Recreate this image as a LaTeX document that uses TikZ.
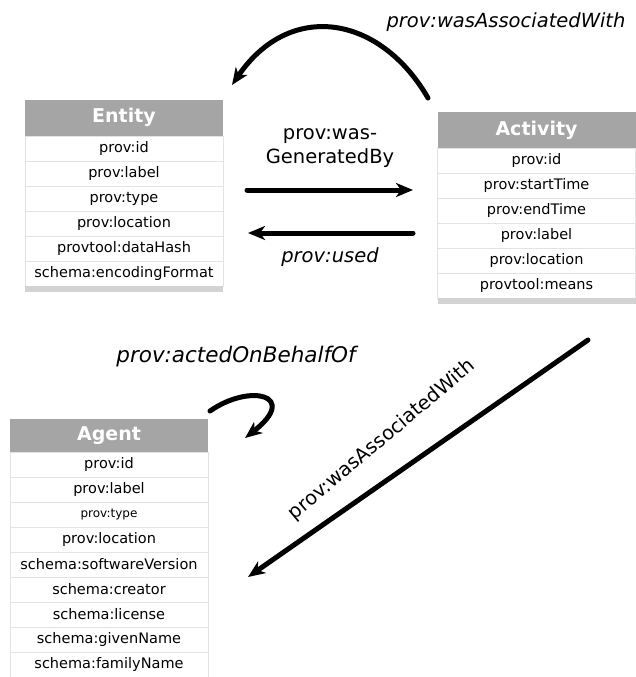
\documentclass[tikz,border=0pt]{standalone}
\usepackage{fontspec}
\setmainfont{DejaVu Sans}
\usetikzlibrary{arrows.meta}
\definecolor{hdrgray}{HTML}{A5A5A5}
\definecolor{bargray}{HTML}{D3D3D3}
\definecolor{rowline}{HTML}{E3E3E3}

\begin{document}
\begin{tikzpicture}[x=1pt,y=-1pt,
  hdr/.style={fill=hdrgray,text=white,font=\fontsize{19}{22}\selectfont\bfseries,
    minimum width=198pt,minimum height=36pt,inner sep=0pt},
  cell/.style={draw=rowline,line width=0.6pt,font=\fontsize{14.5}{16}\selectfont,
    minimum width=198pt,minimum height=25pt,inner sep=0pt},
  smallcell/.style={cell,font=\fontsize{12}{14}\selectfont},
  bar/.style={fill=bargray,minimum width=198pt,minimum height=6pt,inner sep=0pt},
  rel/.style={line width=5pt,line cap=round,
    -{Stealth[length=17pt,width=14pt,inset=5pt]}},
  lbl/.style={font=\fontsize{19.5}{24}\selectfont},
  ilbl/.style={font=\fontsize{19.5}{24}\selectfont\itshape}
]
\useasboundingbox (0,0) rectangle (636,677);

% Entity table
\node[hdr] (entity) at (124,117.5) {Entity};
\foreach \t [count=\i] in {prov:id,prov:label,prov:type,prov:location,
    provtool:dataHash,schema:encodingFormat}
  \node[cell] (ent-\i) at (124,{136+25*\i-12.5}) {\t};
\node[bar] (ent-bar) at (124,289) {};

% Activity table
\node[hdr] (activity) at (536.5,130) {Activity};
\foreach \t [count=\i] in {prov:id,prov:startTime,prov:endTime,prov:label,
    prov:location,provtool:means}
  \node[cell] (act-\i) at (536.5,{148+25*\i-12.5}) {\t};
\node[bar] (act-bar) at (536.5,301) {};

% Agent table
\node[hdr,minimum height=33pt] (agent) at (109,435.5) {Agent};
\foreach \i/\t/\s in {1/prov:id/cell,2/prov:label/cell,3/prov:type/smallcell,
    4/prov:location/cell,5/schema:softwareVersion/cell,6/schema:creator/cell,
    7/schema:license/cell,8/schema:givenName/cell,9/schema:familyName/cell}
  \node[\s] (agt-\i) at (109,{452+25*\i-12.5}) {\t};

% connector end points
\coordinate (assocA) at (428,98);
\coordinate (assocB) at (232,85);
\coordinate (genA) at (247,190);
\coordinate (genB) at (413,190);
\coordinate (usedA) at (413,233);
\coordinate (usedB) at (248,233);
\coordinate (behalfA) at (210,411);
\coordinate (behalfB) at (245,438);
\coordinate (diagA) at (588,340);
\coordinate (diagB) at (248,577);

% relations
\draw[rel] (assocA) .. controls (380,15) and (290,0) .. (assocB);
\node[ilbl] (assocLbl) at (506,22) {prov:wasAssociatedWith};

\draw[rel] (genA) -- (genB);
\node[lbl,align=center] (genLbl) at (330,148) {prov:was-\\GeneratedBy};

\draw[rel] (usedA) -- (usedB);
\node[ilbl] (usedLbl) at (330,257) {prov:used};

\draw[rel] (behalfA) .. controls (250,383) and (300,395) .. (behalfB);
\node[ilbl,font=\fontsize{21.5}{24}\selectfont\itshape] (behalfLbl) at (236,357) {prov:actedOnBehalfOf};

\draw[rel] (diagA) -- (diagB);
\node[lbl,rotate=40] (diagLbl) at (382,440) {prov:wasAssociatedWith};
\end{tikzpicture}
\end{document}
